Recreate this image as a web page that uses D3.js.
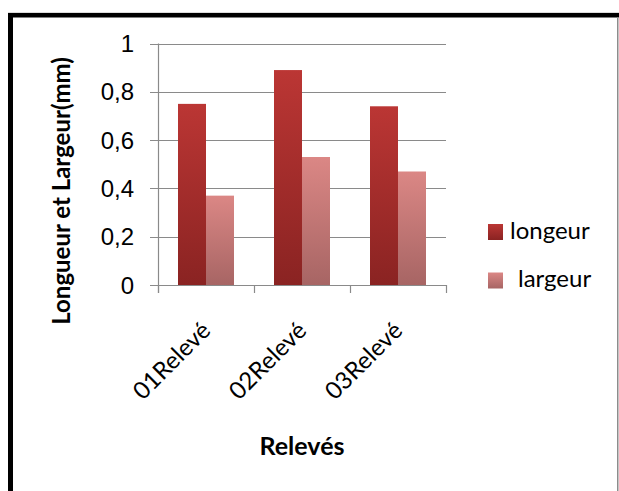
<!DOCTYPE html>
<html>
<head>
<meta charset="utf-8">
<script src="https://cdn.jsdelivr.net/npm/d3@7"></script>
<style>
  body { margin: 0; background: #fff; }
  svg { display: block; }
</style>
</head>
<body>
<div id="chart"></div>
<script>
const categories = ["01Relevé", "02Relevé", "03Relevé"];
const seriesNames = ["longeur", "largeur"];
const longeur = [0.75, 0.89, 0.74];
const largeur = [0.37, 0.53, 0.47];
const yTicks = [0, 0.2, 0.4, 0.6, 0.8, 1];

const width = 619, height = 491;
const plot = { left: 158, right: 446, top: 43.5, bottom: 285 };

const svg = d3.select("#chart").append("svg")
  .attr("width", width)
  .attr("height", height);

// gradients for the two series (light top, dark bottom)
const defs = svg.append("defs");
const grads = [
  { id: "g-longeur", top: "#bb3634", bottom: "#8a2322" },
  { id: "g-largeur", top: "#db8785", bottom: "#a76564" }
];
grads.forEach(g => {
  const lg = defs.append("linearGradient")
    .attr("id", g.id)
    .attr("x1", 0).attr("y1", 0).attr("x2", 0).attr("y2", 1);
  lg.append("stop").attr("offset", "0%").attr("stop-color", g.top);
  lg.append("stop").attr("offset", "100%").attr("stop-color", g.bottom);
});

// frame
svg.append("rect").attr("x", 8).attr("y", 12.5).attr("width", 611).attr("height", 1).attr("fill", "#bbb");
svg.append("rect").attr("x", 8).attr("y", 13).attr("width", 611).attr("height", 4.5).attr("fill", "#000");
svg.append("rect").attr("x", 8).attr("y", 13).attr("width", 5).attr("height", height - 13).attr("fill", "#000");
svg.append("rect").attr("x", 617).attr("y", 17).attr("width", 1.5).attr("height", height - 17).attr("fill", "#8c8c8c");

const x = d3.scaleBand()
  .domain(categories)
  .range([plot.left, plot.right]);

const xs = d3.scaleBand()
  .domain(seriesNames)
  .range([20, x.bandwidth() - 20]);

const y = d3.scaleLinear()
  .domain([0, 1])
  .range([plot.bottom, plot.top]);

const fr = d3.formatLocale({ decimal: ",", thousands: " ", grouping: [3], currency: ["", "€"] });
const fmt = fr.format("~g");

// gridlines + y ticks
svg.append("g")
  .selectAll("line")
  .data(yTicks.filter(d => d > 0))
  .join("line")
  .attr("x1", plot.left - 8)
  .attr("x2", plot.right)
  .attr("y1", d => Math.round(y(d)) + 0.5)
  .attr("y2", d => Math.round(y(d)) + 0.5)
  .attr("stroke", "#8a8a8a")
  .attr("stroke-width", 1.2);

svg.append("g")
  .selectAll("text")
  .data(yTicks)
  .join("text")
  .attr("x", 134)
  .attr("y", d => y(d) + 8.5)
  .attr("text-anchor", "end")
  .style("font", "24px 'Liberation Sans', Arial, sans-serif")
  .attr("fill", "#000")
  .text(d => fmt(d));

// bars
const rows = categories.map((c, i) => ({ cat: c, values: [longeur[i], largeur[i]] }));

const group = svg.append("g")
  .selectAll("g")
  .data(rows)
  .join("g")
  .attr("transform", d => `translate(${x(d.cat)},0)`);

group.selectAll("rect")
  .data(d => d.values.map((v, j) => ({ key: seriesNames[j], v })))
  .join("rect")
  .attr("x", d => xs(d.key))
  .attr("width", xs.bandwidth())
  .attr("y", d => y(d.v))
  .attr("height", d => y(0) - y(d.v))
  .attr("fill", d => `url(#g-${d.key})`);

// axes lines
svg.append("line")
  .attr("x1", plot.left + 0.5).attr("x2", plot.left + 0.5)
  .attr("y1", plot.top).attr("y2", plot.bottom + 8)
  .attr("stroke", "#8a8a8a").attr("stroke-width", 1.2);
svg.append("line")
  .attr("x1", plot.left - 8).attr("x2", plot.right + 0.5)
  .attr("y1", plot.bottom + 0.5).attr("y2", plot.bottom + 0.5)
  .attr("stroke", "#8a8a8a").attr("stroke-width", 1.2);

// category ticks
const xTickPos = categories.map(c => x(c)).concat([plot.right]);
svg.append("g")
  .selectAll("line")
  .data(xTickPos)
  .join("line")
  .attr("x1", d => Math.round(d) + 0.5)
  .attr("x2", d => Math.round(d) + 0.5)
  .attr("y1", plot.bottom)
  .attr("y2", plot.bottom + 8)
  .attr("stroke", "#8a8a8a")
  .attr("stroke-width", 1.2);

// category labels
svg.append("g")
  .selectAll("text")
  .data(categories)
  .join("text")
  .attr("transform", d => `translate(${x(d) + x.bandwidth() / 2 + 6},332) rotate(-45)`)
  .attr("text-anchor", "end")
  .style("font", "24px Lato, sans-serif")
  .text(d => d);

// axis titles
svg.append("text")
  .attr("x", 302)
  .attr("y", 455)
  .attr("text-anchor", "middle")
  .style("font", "bold 25px Lato, sans-serif")
  .text("Relevés");

svg.append("text")
  .attr("transform", "translate(70,191) rotate(-90)")
  .attr("text-anchor", "middle")
  .style("font", "bold 24px Lato, sans-serif")
  .text("Longueur et Largeur(mm)");

// legend
const legend = svg.append("g")
  .selectAll("g")
  .data(seriesNames)
  .join("g")
  .attr("transform", (d, i) => `translate(488,${224 + i * 48.5})`);

legend.append("rect")
  .attr("width", 15)
  .attr("height", 16)
  .attr("fill", d => `url(#g-${d})`);

legend.append("text")
  .attr("x", (d, i) => i === 0 ? 22 : 30)
  .attr("y", 14.5)
  .style("font", "24px Lato, sans-serif")
  .text(d => d);
</script>
</body>
</html>
